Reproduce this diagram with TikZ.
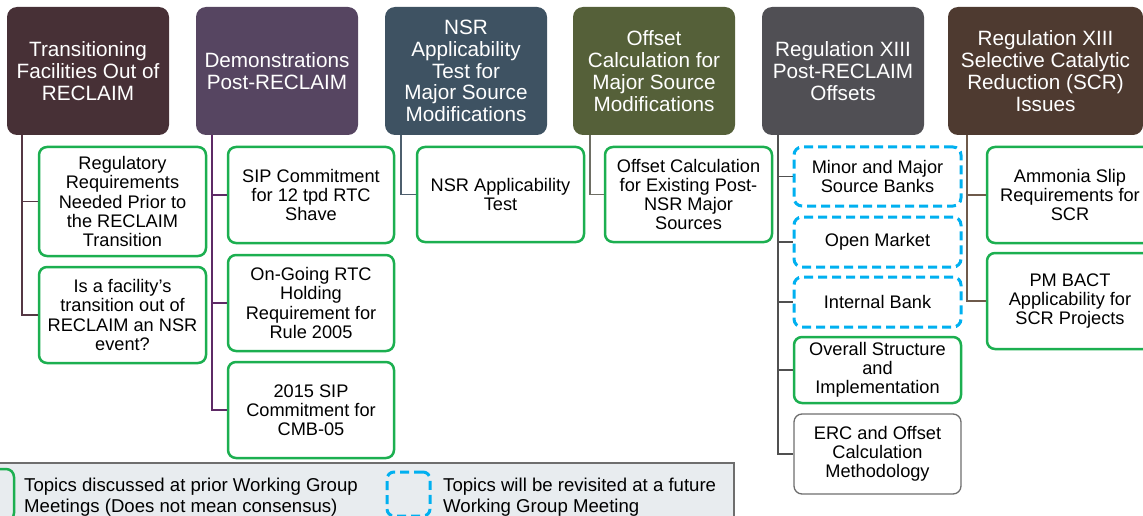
\documentclass[tikz,border=0pt]{standalone}
\usepackage{fontspec}
\setmainfont{Liberation Sans}
\definecolor{hA}{HTML}{473036}
\definecolor{hB}{HTML}{564561}
\definecolor{hC}{HTML}{3E5262}
\definecolor{hD}{HTML}{556039}
\definecolor{hE}{HTML}{504F54}
\definecolor{hF}{HTML}{4E3A30}
\definecolor{lA}{HTML}{553744}
\definecolor{lB}{HTML}{5E2A66}
\definecolor{lC}{HTML}{4E5F6E}
\definecolor{lD}{HTML}{6E6E64}
\definecolor{lE}{HTML}{505050}
\definecolor{lF}{HTML}{6E5A4B}
\definecolor{grn}{HTML}{1CAF50}
\definecolor{blu}{HTML}{00B0F0}
\definecolor{legfill}{HTML}{E8ECEF}
\definecolor{leggray}{HTML}{6E6E6E}
\tikzset{
  hdr/.style={rectangle, rounded corners=10pt, fill=#1, draw=none, text=white,
    minimum width=162pt, minimum height=128pt, align=center, inner sep=0pt,
    font=\fontsize{20.7}{21.8}\selectfont},
  kid/.style={rectangle, rounded corners=8pt, fill=white, text=black,
    minimum width=167pt, align=center, inner sep=0pt,
    font=\fontsize{18.2}{19.2}\selectfont},
  done/.style={kid, draw=grn, line width=2.5pt},
  later/.style={kid, draw=blu, line width=3pt, dash pattern=on 9pt off 5pt},
  plain/.style={kid, draw=leggray, line width=1.3pt},
  conn/.style={line width=1.5pt, draw=#1},
  legtext/.style={anchor=west, align=left, inner sep=0pt, font=\fontsize{18.6}{21}\selectfont},
}
\begin{document}
\begin{tikzpicture}[x=1pt,y=-1pt]
\useasboundingbox (0,0) rectangle (1143,516);
\clip (0,0) rectangle (1143,516);
% headers
\node[hdr=hA] (h1) at (88,71) {Transitioning\\Facilities Out of\\RECLAIM};
\node[hdr=hB] (h2) at (277,71) {Demonstrations\\Post-RECLAIM};
\node[hdr=hC] (h3) at (466,71) {NSR\\Applicability\\Test for\\Major Source\\Modifications};
\node[hdr=hD] (h4) at (654,71) {Offset\\Calculation for\\Major Source\\Modifications};
\node[hdr=hE] (h5) at (843,71) {Regulation XIII\\Post-RECLAIM\\Offsets};
\node[hdr=hF, minimum width=195pt] (h6) at (1045.5,71) {Regulation XIII\\Selective Catalytic\\Reduction (SCR)\\Issues};
% column 1
\node[done, minimum height=109pt] (c11) at (122.5,201.5) {Regulatory\\Requirements\\Needed Prior to\\the RECLAIM\\Transition};
\node[done, minimum height=96pt] (c12) at (122.5,315) {Is a facility’s\\transition out of\\RECLAIM an NSR\\event?};
% column 2
\node[done, minimum height=96pt, minimum width=166pt] (c21) at (311,195) {SIP Commitment\\for 12 tpd RTC\\Shave};
\node[done, minimum height=96pt, minimum width=166pt] (c22) at (311,303) {On-Going RTC\\Holding\\Requirement for\\Rule 2005};
\node[done, minimum height=96pt, minimum width=166pt] (c23) at (311,410) {2015 SIP\\Commitment for\\CMB-05};
% column 3
\node[done, minimum height=95pt] (c31) at (500.5,194.5) {NSR Applicability\\Test};
% column 4
\node[done, minimum height=95pt] (c41) at (688.5,194.5) {Offset Calculation\\for Existing Post-\\NSR Major\\Sources};
% column 5
\node[later, minimum height=59pt] (c51) at (877.5,176.5) {Minor and Major\\Source Banks};
\node[later, minimum height=50pt] (c52) at (877.5,242) {Open Market};
\node[later, minimum height=50pt] (c53) at (877.5,302) {Internal Bank};
\node[done, minimum height=66pt] (c54) at (877.5,370) {Overall Structure\\and\\Implementation};
\node[plain, minimum height=80pt] (c55) at (877.5,454) {ERC and Offset\\Calculation\\Methodology};
% column 6
\node[done, minimum height=96pt, minimum width=166pt] (c61) at (1070,195) {Ammonia Slip\\Requirements for\\SCR};
\node[done, minimum height=96pt, minimum width=166pt] (c62) at (1070,301) {PM BACT\\Applicability for\\SCR Projects};
% connector tops
\coordinate (t1) at (h1.south -| 22,0);
\coordinate (t2) at (h2.south -| 212,0);
\coordinate (t3) at (h3.south -| 401,0);
\coordinate (t4) at (h4.south -| 590,0);
\coordinate (t5) at (h5.south -| 778,0);
\coordinate (t6) at (h6.south -| 967,0);
\draw[conn=lA] (t1) |- (c11.west);
\draw[conn=lA] (t1) |- (c12.west);
\draw[conn=lB] (t2) |- (c21.west);
\draw[conn=lB] (t2) |- (c22.west);
\draw[conn=lB] (t2) |- (c23.west);
\draw[conn=lC] (t3) |- (c31.west);
\draw[conn=lD] (t4) |- (c41.west);
\draw[conn=lE] (t5) |- (c51.west);
\draw[conn=lE] (t5) |- (c52.west);
\draw[conn=lE] (t5) |- (c53.west);
\draw[conn=lE] (t5) |- (c54.west);
\draw[conn=lE] (t5) |- (c55.west);
\draw[conn=lF] (t6) |- (c61.west);
\draw[conn=lF] (t6) |- (c62.west);
% legend
\draw[fill=legfill, draw=leggray, line width=1.5pt] (-3,463) rectangle (734,530);
\node[draw=grn, line width=2.5pt, rounded corners=8pt, minimum width=44pt, minimum height=52pt, inner sep=0pt] (lg1) at (-8,495) {};
\node[draw=blu, line width=3pt, dash pattern=on 9pt off 5pt, rounded corners=7pt, minimum width=43pt, minimum height=44pt, inner sep=0pt] (lg2) at (408.5,494) {};
\node[legtext] (lt1) at (24,497) {Topics discussed at prior Working Group\\Meetings (Does not mean consensus)};
\node[legtext] (lt2) at (443,497) {Topics will be revisited at a future\\Working Group Meeting};
\end{tikzpicture}
\end{document}
